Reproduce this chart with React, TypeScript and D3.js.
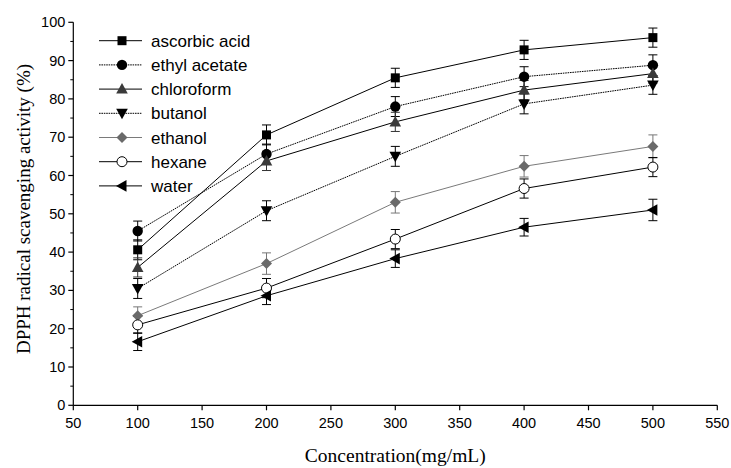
import React from "react";
import * as d3 from "d3";

const concentrations = [100, 200, 300, 400, 500];
const seriesNames = ["ascorbic acid", "ethyl acetate", "chloroform", "butanol", "ethanol", "hexane", "water"];
const ascorbicAcid = [40.6, 70.6, 85.5, 92.8, 96.0];
const ethylAcetate = [45.5, 65.6, 78.0, 85.8, 88.8];
const chloroform = [36.0, 63.8, 74.0, 82.3, 86.6];
const butanol = [30.5, 50.8, 65.0, 78.7, 83.6];
const ethanol = [23.4, 37.0, 53.0, 62.4, 67.6];
const hexane = [21.0, 30.6, 43.4, 56.6, 62.2];
const water = [16.6, 28.6, 38.3, 46.5, 51.0];
const ascorbicErr = [2.6, 2.6, 2.5, 2.5, 2.5];
const ethylErr = [2.6, 2.6, 2.6, 2.6, 2.7];
const chloroErr = [2.5, 2.5, 2.5, 2.5, 2.5];
const butanolErr = [2.6, 2.6, 2.6, 2.6, 2.4];
const ethanolErr = [2.3, 2.8, 2.8, 2.8, 3.0];
const hexaneErr = [2.2, 2.5, 2.5, 2.5, 2.5];
const waterErr = [2.3, 2.3, 2.3, 2.3, 2.8];
const xTicks = [50, 100, 150, 200, 250, 300, 350, 400, 450, 500, 550];
const yTicks = [0, 10, 20, 30, 40, 50, 60, 70, 80, 90, 100];
const yMinorTicks = [5, 15, 25, 35, 45, 55, 65, 75, 85, 95];

type Marker = "square" | "circle" | "triUp" | "triDown" | "diamond" | "openCircle" | "triLeft";

const seriesValues = [ascorbicAcid, ethylAcetate, chloroform, butanol, ethanol, hexane, water];
const seriesErrors = [ascorbicErr, ethylErr, chloroErr, butanolErr, ethanolErr, hexaneErr, waterErr];
const styles: { marker: Marker; line: string; fill: string; dash?: string; err: string }[] = [
  { marker: "square", line: "#000", fill: "#000", err: "#000" },
  { marker: "circle", line: "#000", fill: "#000", dash: "1.6,0.8", err: "#000" },
  { marker: "triUp", line: "#000", fill: "#3a3a3a", err: "#333" },
  { marker: "triDown", line: "#000", fill: "#000", dash: "1.6,0.8", err: "#000" },
  { marker: "diamond", line: "#7a7a7a", fill: "#6a6a6a", err: "#777" },
  { marker: "openCircle", line: "#000", fill: "#fff", err: "#000" },
  { marker: "triLeft", line: "#000", fill: "#000", err: "#000" },
];

function MarkerShape({ type, x, y, fill }: { type: Marker; x: number; y: number; fill: string }) {
  switch (type) {
    case "square":
      return <rect x={x - 4.5} y={y - 4.5} width={9} height={9} fill={fill} />;
    case "circle":
      return <circle cx={x} cy={y} r={5.2} fill={fill} />;
    case "openCircle":
      return <circle cx={x} cy={y} r={5} fill="#fff" stroke="#000" strokeWidth={1} />;
    case "triUp":
      return <path d={`M${x},${y - 6} L${x + 5.8},${y + 4.5} L${x - 5.8},${y + 4.5}Z`} fill={fill} />;
    case "triDown":
      return <path d={`M${x},${y + 6} L${x + 5.8},${y - 4.5} L${x - 5.8},${y - 4.5}Z`} fill={fill} />;
    case "triLeft":
      return <path d={`M${x - 6},${y} L${x + 4.5},${y - 5.8} L${x + 4.5},${y + 5.8}Z`} fill={fill} />;
    case "diamond":
      return <path d={`M${x},${y - 5.5} L${x + 5.5},${y} L${x},${y + 5.5} L${x - 5.5},${y}Z`} fill={fill} />;
  }
  return null;
}

export default function App() {
  const W = 731, H = 468;
  const x = d3.scaleLinear().domain([50, 550]).range([73.3, 717.3]);
  const y = d3.scaleLinear().domain([0, 100]).range([405.3, 22.3]);
  const line = d3.line<number>().x((_, i) => x(concentrations[i])).y((d) => y(d));
  const tickFont = "'Liberation Sans', Arial, sans-serif";
  const serif = "'Liberation Serif', 'Times New Roman', serif";
  const legendY0 = 40.7, legendDy = 24.2;

  return (
    <svg width={W} height={H} style={{ position: "absolute", left: 0, top: 0, background: "#fff" }}>
      {/* axes */}
      <line x1={x(50)} x2={x(550)} y1={y(0)} y2={y(0)} stroke="#000" strokeWidth={1.2} />
      <line x1={x(50)} x2={x(50)} y1={y(0)} y2={y(100)} stroke="#000" strokeWidth={1.2} />
      {xTicks.map((t) => (
        <g key={"xt" + t}>
          <line x1={x(t)} x2={x(t)} y1={y(0)} y2={y(0) + 5} stroke="#000" strokeWidth={1.2} />
          <text x={x(t)} y={y(0) + 23} textAnchor="middle" fontFamily={tickFont} fontSize={14.5} fill="#000">{t}</text>
        </g>
      ))}
      {yTicks.map((t) => (
        <g key={"yt" + t}>
          <line x1={x(50) - 5} x2={x(50)} y1={y(t)} y2={y(t)} stroke="#000" strokeWidth={1.2} />
          <text x={x(50) - 8} y={y(t) + 5} textAnchor="end" fontFamily={tickFont} fontSize={14.5} fill="#000">{t}</text>
        </g>
      ))}
      {yMinorTicks.map((t) => (
        <line key={"ym" + t} x1={x(50) - 3} x2={x(50)} y1={y(t)} y2={y(t)} stroke="#000" strokeWidth={1} />
      ))}
      <text x={(x(50) + x(550)) / 2} y={462} textAnchor="middle" fontFamily={serif} fontSize={19.5} fill="#000">Concentration(mg/mL)</text>
      <text transform={`translate(23,209) rotate(-90)`} dy="0.35em" textAnchor="middle" fontFamily={serif} fontSize={19} fill="#000">DPPH radical scavenging activity (%)</text>

      {/* series lines */}
      {seriesValues.map((vals, si) => (
        <path key={"l" + si} d={line(vals) || ""} fill="none" stroke={styles[si].line} strokeWidth={1} strokeDasharray={styles[si].dash} />
      ))}
      {/* error bars */}
      {seriesValues.map((vals, si) => (
        <g key={"e" + si} stroke={styles[si].err} strokeWidth={1}>
          {vals.map((v, i) => {
            const cx = x(concentrations[i]);
            const e = seriesErrors[si][i];
            return (
              <g key={i}>
                <line x1={cx} x2={cx} y1={y(v + e)} y2={y(v - e)} />
                <line x1={cx - 4.5} x2={cx + 4.5} y1={y(v + e)} y2={y(v + e)} />
                <line x1={cx - 4.5} x2={cx + 4.5} y1={y(v - e)} y2={y(v - e)} />
              </g>
            );
          })}
        </g>
      ))}
      {/* markers */}
      {seriesValues.map((vals, si) => (
        <g key={"m" + si}>
          {vals.map((v, i) => (
            <MarkerShape key={i} type={styles[si].marker} x={x(concentrations[i])} y={y(v)} fill={styles[si].fill} />
          ))}
        </g>
      ))}

      {/* legend */}
      {seriesNames.map((name, si) => {
        const ly = legendY0 + si * legendDy;
        return (
          <g key={"lg" + si}>
            <line x1={99} x2={142} y1={ly} y2={ly} stroke={styles[si].line} strokeWidth={1} strokeDasharray={styles[si].dash} />
            <MarkerShape type={styles[si].marker} x={122} y={ly} fill={styles[si].fill} />
            <text x={151} y={ly + 6} fontFamily={tickFont} fontSize={17} fill="#000">{name}</text>
          </g>
        );
      })}
    </svg>
  );
}
